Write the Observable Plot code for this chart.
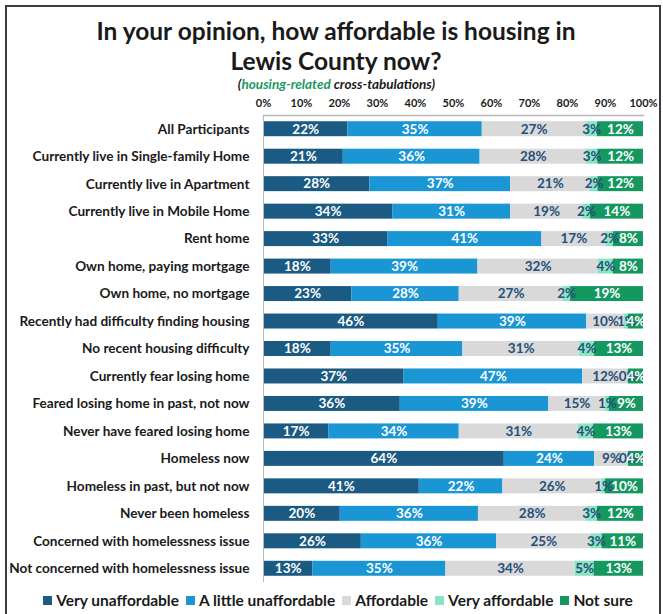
<!DOCTYPE html>
<html>
<head>
<meta charset="utf-8">
<script src="https://cdn.jsdelivr.net/npm/d3@7"></script>
<script src="https://cdn.jsdelivr.net/npm/@observablehq/plot@0.6"></script>
<style>
  html, body { margin: 0; padding: 0; background: #fff; }
  #wrap { position: relative; width: 663px; height: 614px; overflow: hidden; background: #fff; font-family: Lato, "DejaVu Sans", sans-serif; color: #1a1a1a; }
  #frame { position: absolute; left: 5px; top: 5px; width: 652px; height: 700px; border: 2px solid #3c3c3c; pointer-events: none; }
  #title { position: absolute; left: 0; top: 16px; width: 672px; text-align: center; font-weight: 700; font-size: 24.5px; line-height: 30px; }
  #subtitle { position: absolute; left: 0; top: 77px; width: 673px; text-align: center; font-weight: 700; font-style: italic; font-size: 13.5px; line-height: 15px; }
  #subtitle .g { color: #1a9a5e; }
  #chart { position: absolute; left: 0; top: 88px; }
  #legend { position: absolute; left: 0; top: 590px; width: 683px; display: flex; justify-content: center; align-items: center; font-weight: 700; font-size: 15.5px; line-height: 20px; white-space: nowrap; }
  #legend .item { display: flex; align-items: center; margin-right: 7px; }
  #legend .sw { width: 9px; height: 9px; margin-right: 4px; }
</style>
</head>
<body>
<div id="wrap">
  <div id="title">In your opinion, how affordable is housing in<br>Lewis County now?</div>
  <div id="subtitle">(<span class="g">housing-related</span> cross-tabulations)</div>
  <div id="chart"></div>
  <div id="legend"></div>
  <div id="frame"></div>
</div>
<script>
const categories = [
  "All Participants",
  "Currently live in Single-family Home",
  "Currently live in Apartment",
  "Currently live in Mobile Home",
  "Rent home",
  "Own home, paying mortgage",
  "Own home, no mortgage",
  "Recently had difficulty finding housing",
  "No recent housing difficulty",
  "Currently fear losing home",
  "Feared losing home in past, not now",
  "Never have feared losing home",
  "Homeless now",
  "Homeless in past, but not now",
  "Never been homeless",
  "Concerned with homelessness issue",
  "Not concerned with homelessness issue"
];
const responses = ["Very unaffordable", "A little unaffordable", "Affordable", "Very affordable", "Not sure"];
const veryUnaffordable   = [22, 21, 28, 34, 33, 18, 23, 46, 18, 37, 36, 17, 64, 41, 20, 26, 13];
const littleUnaffordable = [35, 36, 37, 31, 41, 39, 28, 39, 35, 47, 39, 34, 24, 22, 36, 36, 35];
const affordable         = [27, 28, 21, 19, 17, 32, 27, 10, 31, 12, 15, 31,  9, 26, 28, 25, 34];
const veryAffordable     = [ 3,  3,  2,  2,  2,  4,  2,  1,  4,  0,  1,  4,  0,  1,  3,  3,  5];
const notSure            = [12, 12, 12, 14,  8,  8, 19,  4, 13,  4,  9, 13,  4, 10, 12, 11, 13];
const xTickLabels = ["0%", "10%", "20%", "30%", "40%", "50%", "60%", "70%", "80%", "90%", "100%"];

const barColors   = ["#1b5a83", "#1a96d5", "#d9d9d9", "#8ae4c1", "#14985f"];
const labelColors = ["#ffffff", "#ffffff", "#24507a", "#24507a", "#ffffff"];

const series = [veryUnaffordable, littleUnaffordable, affordable, veryAffordable, notSure];
const table = [];
categories.forEach((c, i) => {
  responses.forEach((r, k) => {
    table.push({category: c, response: r, k, value: series[k][i]});
  });
});

const chart = Plot.plot({
  width: 663,
  height: 500,
  marginTop: 27,
  marginBottom: 6,
  marginLeft: 263,
  marginRight: 20,
  style: {fontFamily: "Lato, 'DejaVu Sans', sans-serif", background: "transparent", overflow: "visible"},
  x: {
    domain: [0, 1],
    axis: "top",
    ticks: xTickLabels.map((t, i) => i / 10),
    tickFormat: (d, i) => xTickLabels[Math.round(d * 10)],
    tickSize: 0,
    tickPadding: 9,
    label: null
  },
  y: {
    domain: categories,
    paddingInner: 0.455,
    paddingOuter: 0.227,
    round: false,
    tickSize: 0,
    tickPadding: 14,
    label: null
  },
  marks: [
    Plot.barX(table, Plot.stackX({
      x: "value", y: "category", z: "response",
      fill: d => barColors[d.k],
      offset: "normalize"
    })),
    Plot.ruleX([0], {stroke: "#b8b8b8", strokeWidth: 1}),
    Plot.frame({anchor: "top", stroke: "#b8b8b8", strokeWidth: 1.5}),
    Plot.textX(table, Plot.stackX({
      x: "value", y: "category", z: "response",
      text: d => d.value + "%",
      fill: d => labelColors[d.k],
      offset: "normalize",
      fontSize: 13.5,
      fontWeight: 700
    }))
  ]
});

d3.select(chart).selectAll("g[aria-label='y-axis tick label']")
  .attr("font-size", 13.6).attr("font-weight", 700).attr("fill", "#1a1a1a");
d3.select(chart).selectAll("g[aria-label='x-axis tick label']")
  .attr("font-size", 11).attr("font-weight", 700).attr("fill", "#1a1a1a");
document.getElementById("chart").appendChild(chart);

const legend = d3.select("#legend");
responses.forEach((r, k) => {
  const item = legend.append("div").attr("class", "item");
  item.append("div").attr("class", "sw").style("background", barColors[k]);
  item.append("span").text(r);
});
</script>
</body>
</html>
